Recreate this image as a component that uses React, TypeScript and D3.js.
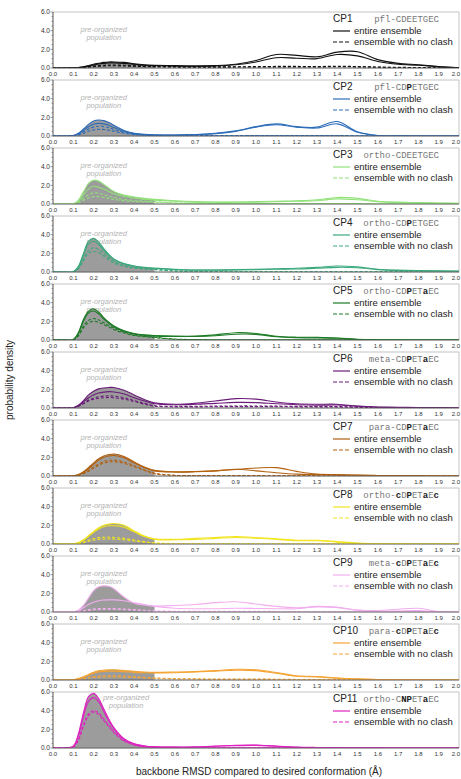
import * as d3 from "d3";

// shared x grid (backbone RMSD, Å)
const X = [0, 0.05, 0.1, 0.125, 0.15, 0.175, 0.2, 0.225, 0.25, 0.275, 0.3, 0.35, 0.4, 0.45, 0.5,
  0.6, 0.7, 0.8, 0.9, 1.0, 1.1, 1.2, 1.3, 1.4, 1.5, 1.6, 1.7, 1.8, 1.9, 2.0];

const X_TICKS = d3.range(0, 21).map((i) => i / 10);
const Y_TICKS = [0, 2, 4, 6];

const NAMES = ["CP1", "CP2", "CP3", "CP4", "CP5", "CP6", "CP7", "CP8", "CP9", "CP10", "CP11"];
// *x* marks bold residues
const CODES = [
  "pfl-CDEETGEC", "pfl-CD*P*ETGEC", "ortho-CDEETGEC", "ortho-CD*P*ETGEC", "ortho-CD*P*ET*a*EC",
  "meta-CD*P*ET*a*EC", "para-CD*P*ET*a*EC", "ortho-*c*D*P*ET*a*E*c*", "meta-*c*D*P*ET*a*E*c*",
  "para-*c*D*P*ET*a*E*c*", "ortho-C*NP*ET*a*EC",
];
const COLORS = ["#111111", "#2c6cb8", "#92e27a", "#3ba97c", "#1c7b26", "#6b1b79", "#b3600f",
  "#f2e51e", "#f2aef0", "#f5a332", "#e020c2"];

// entire ensemble (solid) and no-clash ensemble (dashed), two replicas each
const CP1_SOLID = [
  [0, 0, 0.02, 0.05, 0.12, 0.25, 0.4, 0.5, 0.6, 0.65, 0.65, 0.6, 0.45, 0.35, 0.3, 0.25, 0.2, 0.25, 0.4, 0.8, 1.45, 1.35, 1.2, 1.7, 1.75, 0.9, 0.5, 0.35, 0.15, 0.03],
  [0, 0, 0.01, 0.04, 0.1, 0.2, 0.32, 0.42, 0.5, 0.55, 0.55, 0.5, 0.4, 0.3, 0.25, 0.2, 0.2, 0.22, 0.35, 0.65, 1.1, 1.05, 1.0, 1.45, 1.3, 0.7, 0.4, 0.3, 0.12, 0.02],
];
const CP1_DASHED = [
  [0, 0, 0.01, 0.03, 0.07, 0.13, 0.2, 0.25, 0.3, 0.32, 0.32, 0.3, 0.25, 0.2, 0.17, 0.14, 0.12, 0.12, 0.13, 0.15, 0.17, 0.17, 0.16, 0.18, 0.16, 0.1, 0.07, 0.05, 0.02, 0],
  [0, 0, 0, 0.02, 0.05, 0.1, 0.15, 0.19, 0.22, 0.24, 0.24, 0.22, 0.18, 0.15, 0.12, 0.1, 0.09, 0.09, 0.1, 0.11, 0.12, 0.12, 0.12, 0.13, 0.12, 0.08, 0.05, 0.03, 0.01, 0],
];
const CP2_SOLID = [
  [0, 0, 0.05, 0.3, 0.75, 1.25, 1.6, 1.72, 1.65, 1.45, 1.15, 0.6, 0.3, 0.17, 0.12, 0.1, 0.15, 0.28, 0.55, 1.0, 1.3, 1.0, 0.95, 1.55, 0.45, 0.05, 0.01, 0, 0, 0],
  [0, 0, 0.04, 0.25, 0.6, 1.0, 1.25, 1.35, 1.3, 1.15, 0.9, 0.5, 0.25, 0.15, 0.1, 0.1, 0.15, 0.25, 0.5, 0.95, 1.2, 0.95, 0.85, 1.3, 0.4, 0.04, 0.01, 0, 0, 0],
];
const CP2_DASHED = [
  [0, 0, 0.03, 0.18, 0.45, 0.75, 0.95, 1.05, 1.0, 0.9, 0.7, 0.4, 0.2, 0.1, 0.07, 0.05, 0.04, 0.04, 0.04, 0.05, 0.05, 0.05, 0.05, 0.05, 0.03, 0.01, 0, 0, 0, 0],
  [0, 0, 0.02, 0.12, 0.3, 0.5, 0.65, 0.72, 0.7, 0.62, 0.5, 0.3, 0.15, 0.08, 0.05, 0.04, 0.03, 0.03, 0.03, 0.04, 0.04, 0.04, 0.04, 0.04, 0.02, 0.01, 0, 0, 0, 0],
];
const CP3_SOLID = [
  [0, 0, 0.02, 0.4, 1.3, 2.2, 2.55, 2.45, 2.1, 1.7, 1.35, 0.95, 0.75, 0.6, 0.5, 0.35, 0.25, 0.22, 0.22, 0.25, 0.3, 0.35, 0.45, 0.7, 0.6, 0.3, 0.2, 0.15, 0.1, 0.08],
  [0, 0, 0.02, 0.3, 1.0, 1.6, 1.9, 1.8, 1.6, 1.35, 1.1, 0.8, 0.62, 0.5, 0.42, 0.3, 0.2, 0.18, 0.18, 0.2, 0.25, 0.3, 0.35, 0.55, 0.45, 0.25, 0.15, 0.12, 0.08, 0.05],
];
const CP3_DASHED = [
  [0, 0, 0.01, 0.2, 0.6, 1.0, 1.2, 1.15, 1.0, 0.85, 0.7, 0.5, 0.38, 0.3, 0.25, 0.12, 0.08, 0.06, 0.05, 0.05, 0.05, 0.05, 0.05, 0.05, 0.05, 0.03, 0.02, 0.02, 0.01, 0],
  [0, 0, 0.01, 0.15, 0.4, 0.65, 0.8, 0.78, 0.7, 0.6, 0.5, 0.35, 0.27, 0.22, 0.18, 0.1, 0.06, 0.05, 0.04, 0.04, 0.04, 0.04, 0.04, 0.04, 0.04, 0.02, 0.02, 0.01, 0.01, 0],
];
const CP4_SOLID = [
  [0, 0, 0.03, 0.6, 2.0, 3.3, 3.6, 3.2, 2.5, 1.9, 1.4, 0.9, 0.65, 0.5, 0.42, 0.3, 0.22, 0.22, 0.25, 0.3, 0.35, 0.4, 0.5, 0.65, 0.55, 0.3, 0.2, 0.15, 0.12, 0.1],
  [0, 0, 0.03, 0.5, 1.8, 3.0, 3.3, 2.95, 2.3, 1.75, 1.3, 0.85, 0.6, 0.45, 0.38, 0.25, 0.2, 0.2, 0.22, 0.25, 0.3, 0.32, 0.4, 0.5, 0.45, 0.25, 0.15, 0.12, 0.1, 0.08],
];
const CP4_DASHED = [
  [0, 0, 0.02, 0.4, 1.4, 2.3, 2.6, 2.4, 1.95, 1.5, 1.1, 0.7, 0.5, 0.38, 0.3, 0.12, 0.06, 0.04, 0.03, 0.03, 0.03, 0.03, 0.03, 0.03, 0.03, 0.02, 0.01, 0.01, 0, 0],
  [0, 0, 0.02, 0.35, 1.2, 2.0, 2.2, 2.05, 1.7, 1.3, 0.95, 0.6, 0.42, 0.32, 0.25, 0.1, 0.05, 0.03, 0.02, 0.02, 0.02, 0.02, 0.02, 0.02, 0.02, 0.01, 0.01, 0, 0, 0],
];
const CP5_SOLID = [
  [0, 0, 0.05, 0.8, 2.2, 3.1, 3.35, 3.0, 2.4, 1.9, 1.5, 1.0, 0.7, 0.55, 0.48, 0.42, 0.42, 0.55, 0.78, 0.7, 0.4, 0.3, 0.28, 0.22, 0.08, 0.03, 0.01, 0, 0, 0],
  [0, 0, 0.04, 0.7, 2.0, 2.9, 3.1, 2.8, 2.25, 1.8, 1.4, 0.95, 0.65, 0.5, 0.42, 0.38, 0.38, 0.45, 0.62, 0.6, 0.35, 0.25, 0.22, 0.18, 0.06, 0.02, 0.01, 0, 0, 0],
];
const CP5_DASHED = [
  [0, 0, 0.03, 0.5, 1.5, 2.1, 2.3, 2.15, 1.85, 1.55, 1.25, 0.85, 0.55, 0.4, 0.3, 0.1, 0.05, 0.03, 0.03, 0.03, 0.02, 0.02, 0.02, 0.02, 0.01, 0, 0, 0, 0, 0],
  [0, 0, 0.03, 0.45, 1.3, 1.85, 2.0, 1.9, 1.65, 1.4, 1.1, 0.75, 0.48, 0.35, 0.25, 0.08, 0.04, 0.02, 0.02, 0.02, 0.02, 0.02, 0.02, 0.01, 0.01, 0, 0, 0, 0, 0],
];
const CP6_SOLID = [
  [0, 0, 0.03, 0.3, 0.8, 1.4, 1.8, 2.05, 2.15, 2.2, 2.2, 1.9, 1.4, 0.9, 0.55, 0.4, 0.5, 0.75, 1.0, 0.95, 0.65, 0.45, 0.4, 0.4, 0.2, 0.1, 0.08, 0.05, 0.02, 0],
  [0, 0, 0.02, 0.25, 0.65, 1.1, 1.4, 1.6, 1.7, 1.75, 1.72, 1.5, 1.1, 0.75, 0.45, 0.35, 0.4, 0.5, 0.6, 0.58, 0.45, 0.35, 0.3, 0.32, 0.18, 0.08, 0.06, 0.04, 0.02, 0],
];
const CP6_DASHED = [
  [0, 0, 0.02, 0.2, 0.5, 0.85, 1.05, 1.2, 1.28, 1.3, 1.28, 1.1, 0.8, 0.5, 0.25, 0.18, 0.18, 0.2, 0.22, 0.22, 0.2, 0.18, 0.15, 0.15, 0.1, 0.05, 0.03, 0.02, 0.01, 0],
  [0, 0, 0.02, 0.18, 0.45, 0.75, 0.95, 1.05, 1.1, 1.12, 1.1, 0.95, 0.7, 0.42, 0.2, 0.12, 0.12, 0.14, 0.15, 0.15, 0.14, 0.12, 0.1, 0.1, 0.07, 0.04, 0.02, 0.01, 0, 0],
];
const CP7_SOLID = [
  [0, 0, 0.02, 0.15, 0.45, 0.9, 1.4, 1.85, 2.15, 2.3, 2.35, 2.1, 1.5, 0.95, 0.6, 0.45, 0.48, 0.55, 0.7, 0.85, 0.9, 0.5, 0.2, 0.15, 0.1, 0.06, 0.04, 0.02, 0, 0],
  [0, 0, 0.02, 0.12, 0.4, 0.8, 1.25, 1.7, 2.0, 2.15, 2.2, 1.95, 1.4, 0.9, 0.55, 0.42, 0.45, 0.55, 0.72, 0.55, 0.35, 0.2, 0.15, 0.12, 0.08, 0.05, 0.03, 0.02, 0, 0],
];
const CP7_DASHED = [
  [0, 0, 0.01, 0.1, 0.3, 0.6, 0.95, 1.3, 1.55, 1.68, 1.7, 1.5, 1.1, 0.65, 0.3, 0.08, 0.05, 0.04, 0.04, 0.04, 0.03, 0.03, 0.02, 0.02, 0.02, 0.01, 0, 0, 0, 0],
  [0, 0, 0.01, 0.08, 0.25, 0.5, 0.85, 1.15, 1.4, 1.5, 1.55, 1.35, 1.0, 0.6, 0.25, 0.06, 0.04, 0.03, 0.03, 0.03, 0.02, 0.02, 0.02, 0.01, 0.01, 0, 0, 0, 0, 0],
];
const CP8_SOLID = [
  [0, 0, 0.02, 0.15, 0.45, 0.9, 1.35, 1.75, 2.0, 2.15, 2.2, 2.0, 1.4, 0.85, 0.55, 0.5, 0.6, 0.7, 0.8, 0.7, 0.55, 0.4, 0.4, 0.25, 0.1, 0.04, 0.02, 0, 0, 0],
  [0, 0, 0.02, 0.12, 0.4, 0.8, 1.25, 1.6, 1.85, 1.95, 1.95, 1.8, 1.3, 0.8, 0.5, 0.45, 0.5, 0.6, 0.7, 0.62, 0.5, 0.35, 0.35, 0.2, 0.08, 0.03, 0.01, 0, 0, 0],
];
const CP8_DASHED = [
  [0, 0, 0.01, 0.06, 0.2, 0.4, 0.58, 0.68, 0.72, 0.72, 0.7, 0.6, 0.42, 0.25, 0.12, 0.05, 0.04, 0.04, 0.04, 0.04, 0.03, 0.03, 0.02, 0.02, 0.01, 0, 0, 0, 0, 0],
  [0, 0, 0.01, 0.05, 0.15, 0.3, 0.42, 0.5, 0.53, 0.53, 0.52, 0.45, 0.32, 0.2, 0.1, 0.04, 0.03, 0.03, 0.03, 0.03, 0.02, 0.02, 0.02, 0.01, 0.01, 0, 0, 0, 0, 0],
];
const CP9_SOLID = [
  [0, 0, 0.02, 0.2, 0.7, 1.5, 2.3, 2.7, 2.8, 2.75, 2.5, 1.6, 0.95, 0.75, 0.65, 0.7, 0.8, 1.0, 1.1, 0.85, 0.6, 0.45, 0.55, 0.5, 0.2, 0.15, 0.3, 0.4, 0.05, 0],
  [0, 0, 0.02, 0.15, 0.45, 0.8, 1.05, 1.2, 1.28, 1.3, 1.3, 1.2, 1.0, 0.8, 0.6, 0.4, 0.35, 0.35, 0.4, 0.38, 0.35, 0.35, 0.6, 0.5, 0.2, 0.08, 0.1, 0.15, 0.03, 0],
];
const CP9_DASHED = [
  [0, 0, 0.01, 0.05, 0.15, 0.25, 0.32, 0.36, 0.38, 0.38, 0.37, 0.32, 0.25, 0.18, 0.12, 0.08, 0.08, 0.08, 0.08, 0.07, 0.06, 0.05, 0.05, 0.05, 0.04, 0.03, 0.02, 0.02, 0.01, 0],
  [0, 0, 0.01, 0.04, 0.1, 0.18, 0.24, 0.28, 0.3, 0.3, 0.29, 0.25, 0.2, 0.14, 0.1, 0.06, 0.06, 0.06, 0.06, 0.05, 0.05, 0.04, 0.04, 0.04, 0.03, 0.02, 0.02, 0.01, 0.01, 0],
];
const CP10_SOLID = [
  [0, 0, 0.03, 0.15, 0.35, 0.6, 0.82, 0.98, 1.05, 1.1, 1.1, 1.02, 0.92, 0.85, 0.82, 0.85, 0.9, 1.0, 1.15, 1.1, 0.8, 0.45, 0.38, 0.22, 0.12, 0.06, 0.03, 0.02, 0.01, 0],
  [0, 0, 0.02, 0.12, 0.3, 0.52, 0.72, 0.85, 0.92, 0.95, 0.95, 0.9, 0.82, 0.78, 0.75, 0.78, 0.85, 0.95, 1.05, 1.0, 0.72, 0.4, 0.32, 0.2, 0.1, 0.05, 0.03, 0.02, 0.01, 0],
];
const CP10_DASHED = [
  [0, 0, 0.01, 0.06, 0.15, 0.26, 0.35, 0.4, 0.43, 0.44, 0.44, 0.4, 0.35, 0.28, 0.22, 0.15, 0.12, 0.1, 0.1, 0.1, 0.08, 0.06, 0.05, 0.04, 0.03, 0.02, 0.01, 0.01, 0, 0],
  [0, 0, 0.01, 0.05, 0.12, 0.2, 0.27, 0.31, 0.33, 0.34, 0.34, 0.31, 0.27, 0.22, 0.18, 0.12, 0.1, 0.08, 0.08, 0.08, 0.06, 0.05, 0.04, 0.03, 0.02, 0.01, 0.01, 0, 0, 0],
];
const CP11_SOLID = [
  [0, 0, 0.2, 1.5, 3.8, 5.5, 5.85, 5.3, 4.2, 3.1, 2.2, 1.0, 0.45, 0.22, 0.13, 0.1, 0.12, 0.2, 0.3, 0.32, 0.2, 0.1, 0.06, 0.04, 0.02, 0.01, 0, 0, 0, 0],
  [0, 0, 0.18, 1.3, 3.4, 5.0, 5.4, 4.95, 3.9, 2.9, 2.05, 0.95, 0.42, 0.2, 0.12, 0.09, 0.1, 0.18, 0.25, 0.28, 0.18, 0.08, 0.05, 0.03, 0.02, 0.01, 0, 0, 0, 0],
];
const CP11_DASHED = [
  [0, 0, 0.12, 0.9, 2.5, 3.65, 4.0, 3.75, 3.1, 2.4, 1.75, 0.8, 0.35, 0.15, 0.08, 0.04, 0.03, 0.03, 0.03, 0.03, 0.02, 0.02, 0.01, 0.01, 0, 0, 0, 0, 0, 0],
  [0, 0, 0.1, 0.8, 2.3, 3.45, 3.85, 3.6, 2.95, 2.3, 1.65, 0.75, 0.32, 0.14, 0.07, 0.03, 0.02, 0.02, 0.02, 0.02, 0.02, 0.01, 0.01, 0, 0, 0, 0, 0, 0, 0],
];

const SOLIDS = [CP1_SOLID, CP2_SOLID, CP3_SOLID, CP4_SOLID, CP5_SOLID, CP6_SOLID, CP7_SOLID, CP8_SOLID, CP9_SOLID, CP10_SOLID, CP11_SOLID];
const DASHEDS = [CP1_DASHED, CP2_DASHED, CP3_DASHED, CP4_DASHED, CP5_DASHED, CP6_DASHED, CP7_DASHED, CP8_DASHED, CP9_DASHED, CP10_DASHED, CP11_DASHED];

const W = 461;
const H = 779;
const left = 53;
const right = 459;
const top0 = 12;
const pitch = 68;
const ph = 56;

const SANS = "Liberation Sans, Arial, sans-serif";
const MONO = "Liberation Mono, Courier New, monospace";

function codeParts(code) {
  return code.split("*").map((t, i) => ({ t, bold: i % 2 === 1 })).filter((p) => p.t);
}

function Panel({ i }) {
  const top = top0 + i * pitch;
  const x = d3.scaleLinear().domain([0, 2]).range([left, right]);
  const y = d3.scaleLinear().domain([0, 6]).range([top + ph, top]);
  const color = COLORS[i];
  const line = d3
    .line()
    .x((d) => x(d[0]))
    .y((d) => y(d[1]))
    .curve(d3.curveCatmullRom.alpha(0.5));
  const pts = (arr) => arr.map((v, k) => [X[k], v]);

  const fillPts = pts(SOLIDS[i][0]).filter((d) => d[0] <= 0.5);
  const area = d3
    .area()
    .x((d) => x(d[0]))
    .y0(y(0))
    .y1((d) => y(d[1]))
    .curve(d3.curveCatmullRom.alpha(0.5));

  const last = i === 10;
  const txX = last ? x(0.36) : x(0.25);
  const txY = last ? top + 8 : top + 20;
  const lx = 333;

  return (
    <g>
      <defs>
        <clipPath id={`clip${i}`}>
          <rect x={left} y={top} width={right - left} height={ph} />
        </clipPath>
      </defs>
      <rect x={left} y={top} width={right - left} height={ph} fill="white" stroke="#b5b5b5" strokeWidth={0.8} />
      <text x={txX} y={txY} textAnchor="middle" fontFamily={SANS} fontStyle="italic" fontSize={7.5} fill="#b3b3b3">
        pre-organized
      </text>
      <text x={txX} y={txY + 7.5} textAnchor="middle" fontFamily={SANS} fontStyle="italic" fontSize={7.5} fill="#b3b3b3">
        population
      </text>
      <g clipPath={`url(#clip${i})`}>
        <path d={area(fillPts)} fill="#9c9c9c" />
        {DASHEDS[i].map((s, k) => (
          <path key={"d" + k} d={line(pts(s))} fill="none" stroke={color} strokeWidth={1.1} strokeDasharray="3,2" />
        ))}
        {SOLIDS[i].map((s, k) => (
          <path key={"s" + k} d={line(pts(s))} fill="none" stroke={color} strokeWidth={1.1} />
        ))}
      </g>
      {/* left axis */}
      <line x1={left} x2={left} y1={top} y2={top + ph} stroke="#555" strokeWidth={0.8} />
      {d3.range(0, 6.01, 0.5).map((v) => (
        <line key={v} x1={left - (v % 2 === 0 ? 2.5 : 1.5)} x2={left} y1={y(v)} y2={y(v)} stroke="#555" strokeWidth={0.6} />
      ))}
      {Y_TICKS.map((v) => (
        <text key={v} x={left - 3} y={y(v) + 2.2} textAnchor="end" fontFamily={SANS} fontSize={6.5} fill="#333">
          {v.toFixed(1)}
        </text>
      ))}
      <line x1={left} x2={right} y1={top + ph} y2={top + ph} stroke="#555" strokeWidth={0.8} />
      {X_TICKS.map((v, k) => {
        const end = k === X_TICKS.length - 1;
        return (
          <text key={v} x={end ? W - 1 : x(v)} y={top + ph + 8} textAnchor={end ? "end" : "middle"} fontFamily={SANS} fontSize={6} fill="#333">
            {v.toFixed(1)}
          </text>
        );
      })}
      {/* legend */}
      <text x={lx} y={top + 10} fontFamily={SANS} fontSize={10} fill="#222">
        {NAMES[i]}
      </text>
      <text x={439} y={top + 10} textAnchor="end" fontFamily={MONO} fontSize={9} fill="#777">
        {codeParts(CODES[i]).map((p, k) => (
          <tspan key={k} fontWeight={p.bold ? "bold" : "normal"} fill={p.bold ? "#222" : "#777"}>
            {p.t}
          </tspan>
        ))}
      </text>
      <line x1={lx} x2={lx + 17} y1={top + 19} y2={top + 19} stroke={color} strokeWidth={1.2} />
      <text x={lx + 21} y={top + 22} fontFamily={SANS} fontSize={9.5} fill="#222">
        entire ensemble
      </text>
      <line x1={lx} x2={lx + 17} y1={top + 30} y2={top + 30} stroke={color} strokeWidth={1.2} strokeDasharray="4,2" />
      <text x={lx + 21} y={top + 33} fontFamily={SANS} fontSize={9.5} fill="#222">
        ensemble with no clash
      </text>
    </g>
  );
}

export default function App() {
  return (
    <svg width={W} height={H} style={{ position: "absolute", left: 0, top: 0, background: "white" }}>
      {NAMES.map((_, i) => (
        <Panel key={i} i={i} />
      ))}
      <text
        transform={`translate(13, 380) rotate(-90)`}
        textAnchor="middle"
        fontFamily={SANS}
        fontSize={10}
        fill="#222"
      >
        probability density
      </text>
      <text x={259} y={775} textAnchor="middle" fontFamily={SANS} fontSize={10} fill="#222">
        backbone RMSD compared to desired conformation (Å)
      </text>
    </svg>
  );
}
